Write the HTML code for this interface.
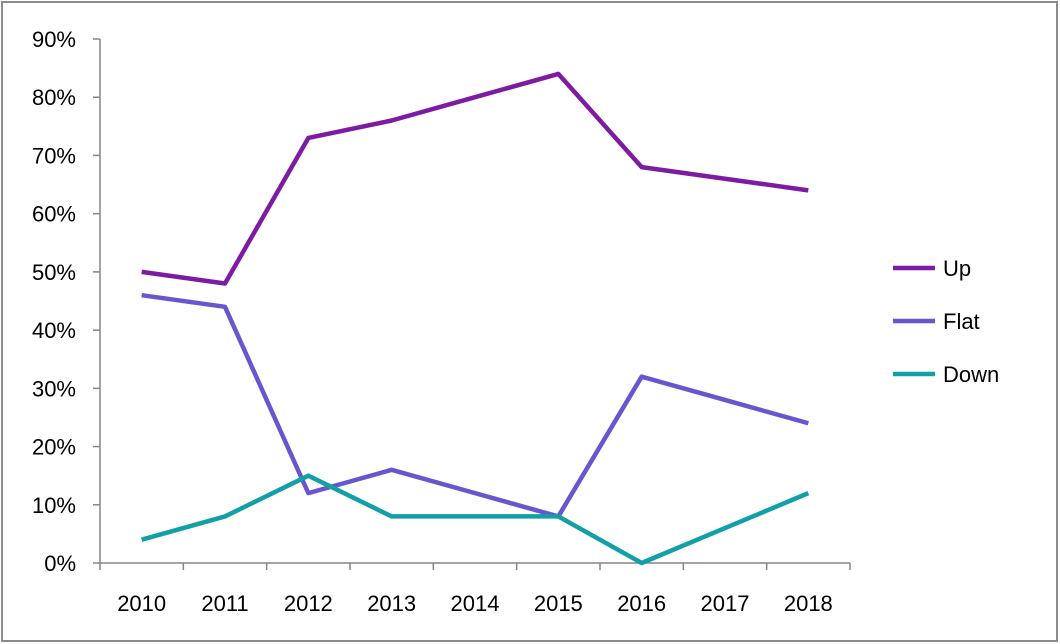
<!DOCTYPE html>
<html><head><meta charset="utf-8"><style>
html,body{margin:0;padding:0;background:#fff;}
svg{display:block;font-family:"Liberation Sans",Arial,sans-serif;}
</style></head><body>
<svg id="chart" width="1060" height="644">
<rect x="2" y="2" width="1055" height="639" fill="#fff" stroke="#8c8c8c" stroke-width="2"/>
<g id="axes"></g><g id="series"></g><g id="legend"></g>
</svg>
<script>
const categories=["2010","2011","2012","2013","2014","2015","2016","2017","2018"];
const upValues=[50,48,73,76,80,84,68,66,64];
const flatValues=[46,44,12,16,12,8,32,28,24];
const downValues=[4,8,15,8,8,8,0,6,12];
const yTicks=[0,10,20,30,40,50,60,70,80,90];
const seriesNames=["Up","Flat","Down"];
const NS="http://www.w3.org/2000/svg";
const x0=100,x1=850,y0=563,y1=39,yMax=90;
const bw=(x1-x0)/categories.length;
function xs(i){return x0+bw*(i+0.5);}
function ys(v){return y0-(v/yMax)*(y0-y1);}
function mk(tag,attrs,parent,text){const e=document.createElementNS(NS,tag);for(const k in attrs)e.setAttribute(k,attrs[k]);if(text!==undefined)e.textContent=text;parent.appendChild(e);return e;}
const axes=document.getElementById('axes');
let a=mk('line',{x1:x0,y1:y1,x2:x0,y2:y0,stroke:'#868686','stroke-width':1.5},axes);


a=mk('line',{x1:x0,y1:y0,x2:x1,y2:y0,stroke:'#868686','stroke-width':1.5},axes);


yTicks.forEach(t=>{
 const y=ys(t);
 mk('line',{x1:x0-7,y1:y,x2:x0,y2:y,stroke:'#868686','stroke-width':1.5},axes);
 const l=mk('text',{x:76,y:y+8,'text-anchor':'end','font-size':22,fill:'#000'},axes,t+'%');
 
 
});
for(let i=0;i<=categories.length;i++){const x=x0+bw*i;mk('line',{x1:x,y1:y0,x2:x,y2:y0+7,stroke:'#868686','stroke-width':1.5},axes);}
categories.forEach((c,i)=>{
 const l=mk('text',{x:xs(i),y:611,'text-anchor':'middle','font-size':22,fill:'#000'},axes,c);
 
 
});
const colors=["#7e1ba3","#6a55cf","#12a0a6"];
const data=[upValues,flatValues,downValues];
const sg=document.getElementById('series');
const lg=document.getElementById('legend');
data.forEach((vals,s)=>{
 const p=mk('polyline',{points:vals.map((v,i)=>xs(i)+','+ys(v)).join(' '),fill:'none',stroke:colors[s],'stroke-width':4.5,'stroke-linejoin':'round'},sg);
 
 
 const ly=268+s*53;
 const ll=mk('line',{x1:893,y1:ly,x2:935,y2:ly,stroke:colors[s],'stroke-width':4.5},lg);
 
 
 const lt=mk('text',{x:943,y:ly+8,'font-size':22,fill:'#000'},lg,seriesNames[s]);
 
 
});
</script>
</body></html>
